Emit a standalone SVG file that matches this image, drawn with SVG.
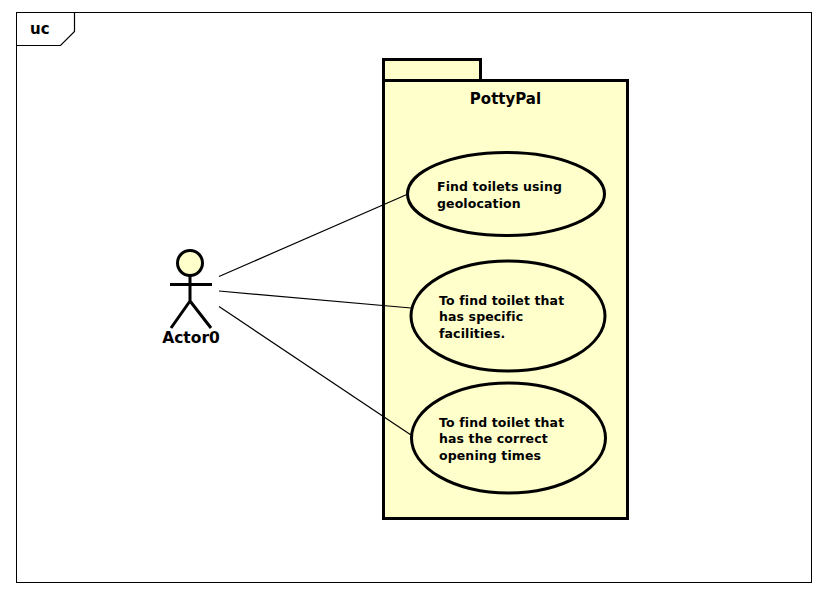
<svg xmlns="http://www.w3.org/2000/svg" width="826" height="594" viewBox="0 0 826 594">
<style>
.s{fill:#ffffcc;stroke:#000;stroke-width:3}
.l{fill:none;stroke:#000;stroke-width:3}
.c{fill:none;stroke:#000;stroke-width:1.2}
text{font-family:"DejaVu Sans",sans-serif;font-weight:bold;fill:#000}
.t{font-size:12.500px;letter-spacing:.12px}
.b{font-size:15px}
</style>
<rect width="826" height="594" fill="#fff"/>
<g id="frame">
<rect x="16.500" y="12.500" width="795" height="570" fill="#fff" stroke="#000" stroke-width="1"/>
<path d="M16.500 45.500H60.500L74.500 31.500V12.500" fill="none" stroke="#000" stroke-width="1.200"/>
<text x="30" y="34" class="b">uc</text>
</g>
<g id="package">
<rect x="383.500" y="59.500" width="97" height="21" class="s"/>
<rect x="383.500" y="80.500" width="244" height="438" class="s"/>
<text x="505.500" y="104" class="b" text-anchor="middle">PottyPal</text>
</g>
<g id="connectors">
<path class="c" d="M219 276.500L408 194"/>
<path class="c" d="M219 291L411 308"/>
<path class="c" d="M219 306.500L411 435"/>
</g>
<g id="actor">
<circle cx="190" cy="263" r="12.500" class="s"/>
<path class="l" d="M190 276V301M170 284.500H212M190 301L171 328M190 301L211 328"/>
<text x="191" y="343" class="b" text-anchor="middle" style="font-size:15.500px">Actor0</text>
</g>
<g id="uc1">
<ellipse cx="506" cy="194" rx="98.500" ry="41.500" class="s"/>
<text x="437" y="191" class="t">Find toilets using</text>
<text x="437" y="208" class="t">geolocation</text>
</g>
<g id="uc2">
<ellipse cx="508" cy="316" rx="97" ry="55" class="s"/>
<text x="439" y="305" class="t">To find toilet that</text>
<text x="439" y="321" class="t">has specific</text>
<text x="439" y="338" class="t">facilities.</text>
</g>
<g id="uc3">
<ellipse cx="508.500" cy="438" rx="97" ry="55" class="s"/>
<text x="439" y="427" class="t">To find toilet that</text>
<text x="439" y="443" class="t">has the correct</text>
<text x="439" y="460" class="t">opening times</text>
</g>
</svg>
